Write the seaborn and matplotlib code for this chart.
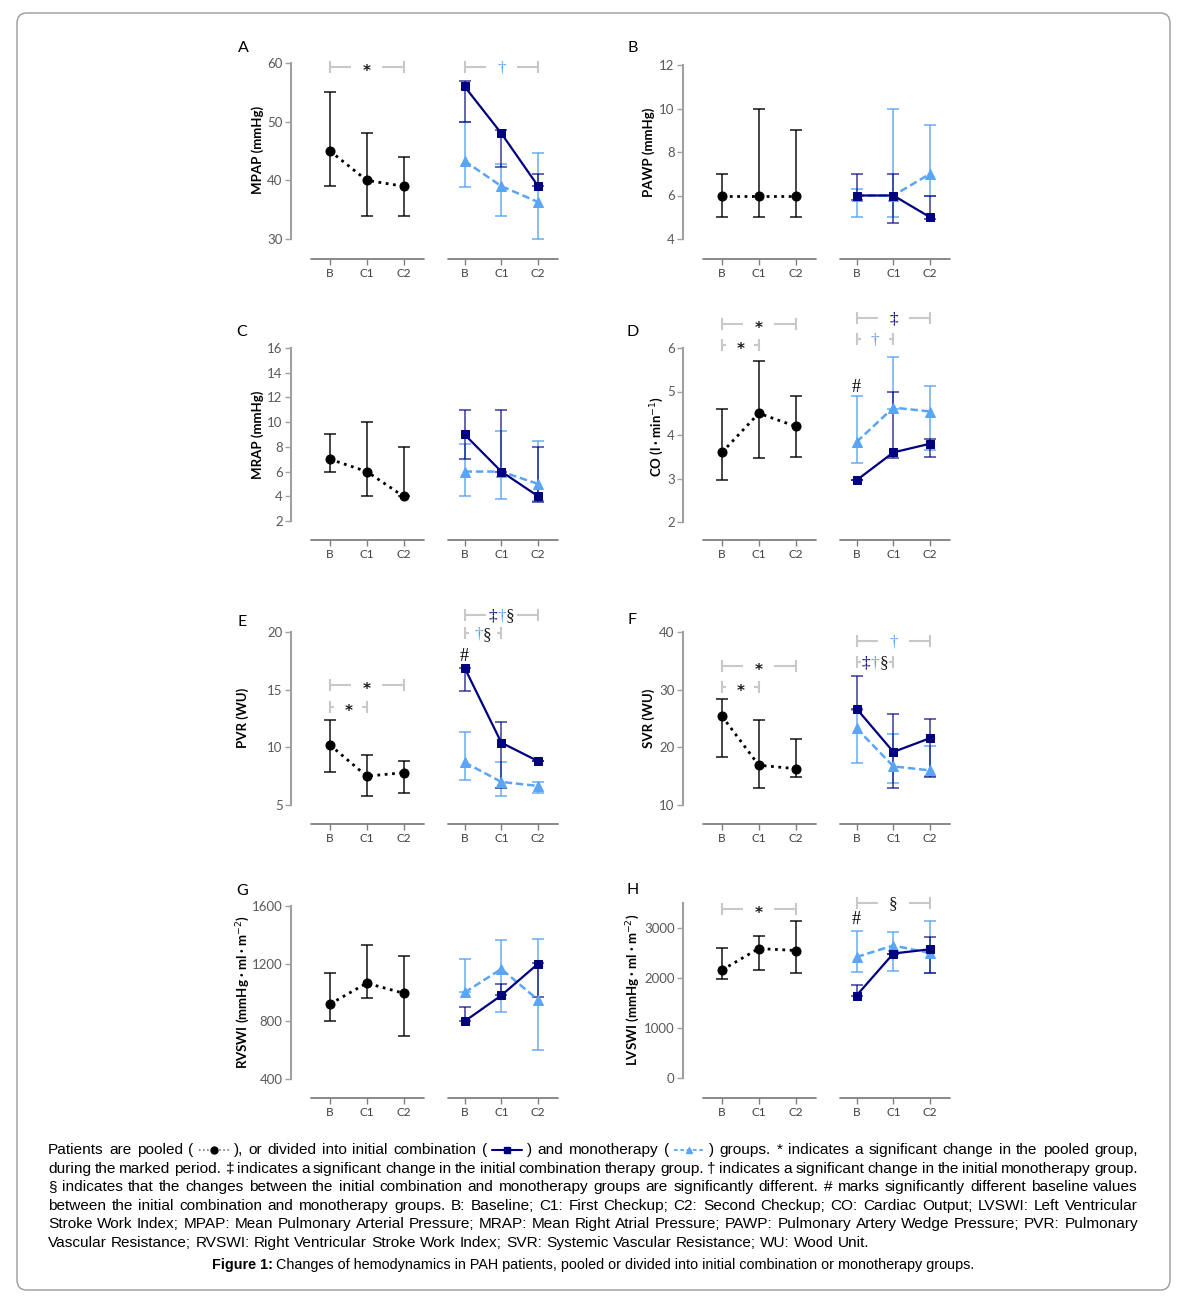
import matplotlib
matplotlib.use('Agg')
import numpy as np
import matplotlib.pyplot as plt
import seaborn as sns
from matplotlib.lines import Line2D
from matplotlib.patches import FancyBboxPatch

W, H = 1182, 1299

# time points and x positions (pooled block, then the divided block)
timepoints = ['B', 'C1', 'C2']
x_pool = [0, 1, 2]
x_group = [3.66, 4.66, 5.66]

# A: MPAP (mmHg)
mpap_pool = [45, 40, 39]
mpap_pool_lo = [39, 34, 34]
mpap_pool_hi = [55, 48, 44]
mpap_comb = [56, 48, 39]
mpap_comb_lo = [50, 42.2, 39]
mpap_comb_hi = [57, 48.6, 41.1]
mpap_mono = [43.3, 39, 36.3]
mpap_mono_lo = [38.9, 34, 30]
mpap_mono_hi = [50, 42.7, 44.6]

# B: PAWP (mmHg)
pawp_pool = [6, 6, 6]
pawp_pool_lo = [5, 5, 5]
pawp_pool_hi = [7, 10, 9]
pawp_comb = [6, 6, 5]
pawp_comb_lo = [5.8, 4.75, 4.9]
pawp_comb_hi = [7, 7, 6]
pawp_mono = [6, 6, 7]
pawp_mono_lo = [5, 5, 6]
pawp_mono_hi = [6.3, 10, 9.25]

# C: MRAP (mmHg)
mrap_pool = [7, 6, 4]
mrap_pool_lo = [6, 4, 4]
mrap_pool_hi = [9, 10, 8]
mrap_comb = [9, 6, 4]
mrap_comb_lo = [7, 6, 3.5]
mrap_comb_hi = [11, 11, 8]
mrap_mono = [6, 6, 5]
mrap_mono_lo = [4, 3.75, 3.6]
mrap_mono_hi = [8.2, 9.25, 8.5]

# D: CO (l/min)
co_pool = [3.6, 4.5, 4.2]
co_pool_lo = [2.96, 3.46, 3.5]
co_pool_hi = [4.6, 5.69, 4.9]
co_comb = [2.96, 3.6, 3.8]
co_comb_lo = [2.96, 3.48, 3.5]
co_comb_hi = [2.96, 5.0, 3.9]
co_mono = [3.84, 4.63, 4.54]
co_mono_lo = [3.36, 4.6, 3.65]
co_mono_hi = [4.9, 5.8, 5.12]

# E: PVR (WU)
pvr_pool = [10.2, 7.5, 7.8]
pvr_pool_lo = [7.9, 5.75, 6.05]
pvr_pool_hi = [12.4, 9.3, 8.85]
pvr_comb = [16.9, 10.4, 8.8]
pvr_comb_lo = [14.9, 6.5, 8.8]
pvr_comb_hi = [16.9, 12.2, 8.8]
pvr_mono = [8.7, 7.0, 6.65]
pvr_mono_lo = [7.2, 5.75, 6.05]
pvr_mono_hi = [11.3, 8.75, 7.0]

# F: SVR (WU)
svr_pool = [25.4, 16.9, 16.3]
svr_pool_lo = [18.3, 13, 14.8]
svr_pool_hi = [28.3, 24.8, 21.4]
svr_comb = [26.7, 19.2, 21.6]
svr_comb_lo = [26.7, 13, 14.8]
svr_comb_hi = [32.4, 25.8, 24.9]
svr_mono = [23.3, 16.7, 16.0]
svr_mono_lo = [17.3, 13.8, 15.0]
svr_mono_hi = [26.5, 22.3, 20.3]

# G: RVSWI
rvswi_pool = [920, 1065, 995]
rvswi_pool_lo = [800, 965, 698]
rvswi_pool_hi = [1135, 1330, 1255]
rvswi_comb = [800, 980, 1200]
rvswi_comb_lo = [800, 980, 967]
rvswi_comb_hi = [902, 1060, 1202]
rvswi_mono = [1000, 1163, 948]
rvswi_mono_lo = [1000, 863, 599]
rvswi_mono_hi = [1230, 1365, 1371]

# H: LVSWI
lvswi_pool = [2160, 2590, 2550]
lvswi_pool_lo = [1980, 2165, 2110]
lvswi_pool_hi = [2595, 2840, 3135]
lvswi_comb = [1650, 2490, 2575]
lvswi_comb_lo = [1650, 2490, 2100]
lvswi_comb_hi = [1870, 2490, 2820]
lvswi_mono = [2420, 2650, 2500]
lvswi_mono_lo = [2120, 2145, 2100]
lvswi_mono_hi = [2950, 2920, 3135]

NAVY = '#00007f'
LBLUE = '#5aa5f5'
BRACKET = '#c8c8c8'

sns.set_theme(style='white')
plt.rcParams['font.family'] = ['Lato', 'DejaVu Sans']

fig = plt.figure(figsize=(W / 100, H / 100), dpi=100)
fig.patch.set_facecolor('white')


def fx(px):
    return px / W


def fy(py):
    return 1 - py / H


panels = [
    dict(letter='A', col=291, lo=30, lo_px=239, hi=60, hi_px=63, xaxis=259, ticks=[30, 40, 50, 60],
         ylabel='MPAP (mmHg)', ylab_xy=(258, 150), let_xy=(243, 48),
         pool=(mpap_pool, mpap_pool_lo, mpap_pool_hi), comb=(mpap_comb, mpap_comb_lo, mpap_comb_hi),
         mono=(mpap_mono, mpap_mono_lo, mpap_mono_hi),
         brackets=[(0, 2, 59.3, [('*', 'k')]), (3.66, 5.66, 59.3, [('†', LBLUE)])], hashes=[]),
    dict(letter='B', col=683, lo=4, lo_px=239, hi=12, hi_px=65, xaxis=259, ticks=[4, 6, 8, 10, 12],
         ylabel='PAWP (mmHg)', ylab_xy=(649, 152), let_xy=(633, 48),
         pool=(pawp_pool, pawp_pool_lo, pawp_pool_hi), comb=(pawp_comb, pawp_comb_lo, pawp_comb_hi),
         mono=(pawp_mono, pawp_mono_lo, pawp_mono_hi), brackets=[], hashes=[]),
    dict(letter='C', col=291, lo=2, lo_px=521, hi=16, hi_px=348, xaxis=540, ticks=[2, 4, 6, 8, 10, 12, 14, 16],
         ylabel='MRAP (mmHg)', ylab_xy=(258, 435), let_xy=(242, 332),
         pool=(mrap_pool, mrap_pool_lo, mrap_pool_hi), comb=(mrap_comb, mrap_comb_lo, mrap_comb_hi),
         mono=(mrap_mono, mrap_mono_lo, mrap_mono_hi), brackets=[], hashes=[]),
    dict(letter='D', col=683, lo=2, lo_px=522, hi=6, hi_px=348, xaxis=540, ticks=[2, 3, 4, 5, 6],
         ylabel='CO (l · min$^{-1}$)', ylab_xy=(657, 437), let_xy=(633, 332),
         pool=(co_pool, co_pool_lo, co_pool_hi), comb=(co_comb, co_comb_lo, co_comb_hi),
         mono=(co_mono, co_mono_lo, co_mono_hi),
         brackets=[(0, 2, 6.55, [('*', 'k')]), (0, 1, 6.07, [('*', 'k')]),
                   (3.66, 5.66, 6.69, [('‡', NAVY)]), (3.66, 4.66, 6.2, [('†', LBLUE)])],
         hashes=[(3.66, 5.1)]),
    dict(letter='E', col=291, lo=5, lo_px=805, hi=20, hi_px=632, xaxis=824, ticks=[5, 10, 15, 20],
         ylabel='PVR (WU)', ylab_xy=(243, 718), let_xy=(242, 622),
         pool=(pvr_pool, pvr_pool_lo, pvr_pool_hi), comb=(pvr_comb, pvr_comb_lo, pvr_comb_hi),
         mono=(pvr_mono, pvr_mono_lo, pvr_mono_hi),
         brackets=[(0, 2, 15.4, [('*', 'k')]), (0, 1, 13.5, [('*', 'k')]),
                   (3.66, 5.66, 21.5, [('‡', NAVY), ('†', LBLUE), ('§', 'k')]),
                   (3.66, 4.66, 19.9, [('†', LBLUE), ('§', 'k')])],
         hashes=[(3.66, 17.9)]),
    dict(letter='F', col=683, lo=10, lo_px=805, hi=40, hi_px=632, xaxis=824, ticks=[10, 20, 30, 40],
         ylabel='SVR (WU)', ylab_xy=(649, 718), let_xy=(632, 620),
         pool=(svr_pool, svr_pool_lo, svr_pool_hi), comb=(svr_comb, svr_comb_lo, svr_comb_hi),
         mono=(svr_mono, svr_mono_lo, svr_mono_hi),
         brackets=[(0, 2, 34.1, [('*', 'k')]), (0, 1, 30.45, [('*', 'k')]),
                   (3.66, 5.66, 38.4, [('†', LBLUE)]),
                   (3.66, 4.66, 34.8, [('‡', NAVY), ('†', LBLUE), ('§', 'k')])],
         hashes=[]),
    dict(letter='G', col=291, lo=400, lo_px=1079, hi=1600, hi_px=906, xaxis=1098, ticks=[400, 800, 1200, 1600],
         ylabel='RVSWI (mmHg · ml · m$^{-2}$)', ylab_xy=(243, 992), let_xy=(242, 891),
         pool=(rvswi_pool, rvswi_pool_lo, rvswi_pool_hi), comb=(rvswi_comb, rvswi_comb_lo, rvswi_comb_hi),
         mono=(rvswi_mono, rvswi_mono_lo, rvswi_mono_hi), brackets=[], hashes=[]),
    dict(letter='H', col=683, lo=0, lo_px=1078, hi=3500, hi_px=903, xaxis=1098, ticks=[0, 1000, 2000, 3000],
         ylabel='LVSWI (mmHg · ml · m$^{-2}$)', ylab_xy=(633, 990), let_xy=(633, 890),
         pool=(lvswi_pool, lvswi_pool_lo, lvswi_pool_hi), comb=(lvswi_comb, lvswi_comb_lo, lvswi_comb_hi),
         mono=(lvswi_mono, lvswi_mono_lo, lvswi_mono_hi),
         brackets=[(0, 2, 3380, [('*', 'k')]), (3.66, 5.66, 3500, [('§', 'k')])],
         hashes=[(3.66, 3160)]),
]

AX_W = 267


def add_bracket(ax, x0, x1, y, pieces):
    short = (x1 - x0) < 1.5
    gap = 0.38 if short else 0.42
    mid = (x0 + x1) / 2
    for a, b in [(x0, mid - gap), (mid + gap, x1)]:
        ax.plot([a, b], [y, y], color=BRACKET, lw=1.5, clip_on=False, solid_capstyle='butt', zorder=1)
    ax.plot([x0, x1], [y, y], ls='none', marker='|', ms=8, mew=1.5, color=BRACKET, clip_on=False, zorder=1)
    n = len(pieces)
    for i, (ch, col) in enumerate(pieces):
        xc = mid + (i - (n - 1) / 2) * 0.24
        if ch == '*':
            ax.annotate(ch, xy=(xc, y), xytext=(0, -6.5), textcoords='offset points', ha='center',
                        va='baseline', fontsize=11, fontweight='bold', color=col, family='DejaVu Sans',
                        annotation_clip=False)
        else:
            ax.annotate(ch, xy=(xc, y), xytext=(0, -4), textcoords='offset points', ha='center',
                        va='baseline', fontsize=12.5, color=col, family='Liberation Serif',
                        annotation_clip=False)


for p in panels:
    s = (p['lo_px'] - p['hi_px']) / (p['hi'] - p['lo'])
    ybot = p['lo'] - (p['xaxis'] - p['lo_px']) / s
    ax = fig.add_axes([fx(p['col']), fy(p['xaxis']), AX_W / W, (p['xaxis'] - p['hi_px']) / H])
    ax.set_facecolor('none')
    ax.set_xlim(-1.06, 6.2)
    ax.set_ylim(ybot, p['hi'])
    for sp in ['top', 'right', 'bottom']:
        ax.spines[sp].set_visible(False)
    ax.spines['left'].set_bounds(p['lo'], p['hi'])
    ax.spines['left'].set_color('#a0a0a0')
    ax.spines['left'].set_linewidth(1.5)
    ax.set_yticks(p['ticks'])
    ax.set_xticks(x_pool + x_group)
    ax.set_xticklabels(timepoints * 2)
    ax.tick_params(axis='y', left=True, length=4, width=1, color='#a0a0a0', labelcolor='#595959',
                   labelsize=9.5, pad=2)
    ax.tick_params(axis='x', bottom=True, length=4, width=1, color='#808080', labelcolor='#404040',
                   labelsize=8.5, pad=2.5)
    # split x axis line
    for a, b in [(-0.52, 2.55), (3.2, 6.2)]:
        ax.plot([a, b], [0, 0], transform=ax.get_xaxis_transform(), clip_on=False, color='#808080', lw=1.3)

    # error bars
    for xs, (v, lo, hi), col, al in [(x_pool, p['pool'], 'black', 0.85),
                                     (x_group, p['mono'], LBLUE, 0.85),
                                     (x_group, p['comb'], NAVY, 0.7)]:
        v = np.array(v)
        err = [v - np.array(lo), np.array(hi) - v]
        ax.errorbar(xs, v, yerr=err, fmt='none', ecolor=col, elinewidth=1.2, capsize=4.5,
                    capthick=1.2, alpha=al, zorder=2, clip_on=False)

    # lines with markers
    sns.lineplot(x=x_pool, y=p['pool'][0], ax=ax, color='black', linestyle=':', lw=2,
                 marker='o', ms=6.5, mec='black', zorder=4)
    sns.lineplot(x=x_group, y=p['mono'][0], ax=ax, color=LBLUE, linestyle=(0, (3, 1.5)), lw=1.8,
                 marker='^', ms=7.5, mec=LBLUE, zorder=4)
    sns.lineplot(x=x_group, y=p['comb'][0], ax=ax, color=NAVY, linestyle='-', lw=1.6,
                 marker='s', ms=6, mec=NAVY, zorder=5)
    ax.set_xlabel('')
    ax.set_ylabel('')

    for x0, x1, y, pieces in p['brackets']:
        add_bracket(ax, x0, x1, y, pieces)
    for hx, hy in p['hashes']:
        ax.text(hx, hy, '#', ha='center', va='center', fontsize=13, family='Liberation Serif',
                color='black', clip_on=False)

    fig.text(fx(p['ylab_xy'][0]), fy(p['ylab_xy'][1]), p['ylabel'], rotation=90, ha='center',
             va='center', fontsize=9.5, fontweight='bold', color='black')
    fig.text(fx(p['let_xy'][0]), fy(p['let_xy'][1]), p['letter'], ha='center', va='center',
             fontsize=11.5, color='black')

# outer frame
fig.add_artist(FancyBboxPatch((fx(17), fy(1290)), (1170 - 17) / W, (1290 - 13) / H,
                              boxstyle='round,pad=0,rounding_size=0.008', transform=fig.transFigure,
                              fill=False, edgecolor='#9a9a9a', lw=1))

# caption, justified line by line
renderer = fig.canvas.get_renderer()
cap_kw = dict(family='Liberation Sans', size=11.1, color='black')
SYM_W = 40


def measure(txt, **kw):
    t = fig.text(0, 0, txt, **kw)
    w = t.get_window_extent(renderer).width
    t.remove()
    return w


def draw_sym(kind, x, yb):
    yc = fy(yb - 4)
    x0, x1, xm = fx(x + 5), fx(x + SYM_W - 5), fx(x + SYM_W / 2)
    if kind == 0:
        fig.add_artist(Line2D([x0, x1], [yc, yc], color='#666666', ls=':', lw=1.1))
        fig.add_artist(Line2D([xm], [yc], marker='o', ms=5, color='black', mec='black'))
    elif kind == 1:
        fig.add_artist(Line2D([x0, x1], [yc, yc], color=NAVY, ls='-', lw=1.5))
        fig.add_artist(Line2D([xm], [yc], marker='s', ms=4.5, color=NAVY, mec=NAVY))
    else:
        fig.add_artist(Line2D([x0, x1], [yc, yc], color=LBLUE, ls=(0, (2, 1.5)), lw=1.3))
        fig.add_artist(Line2D([xm], [yc], marker='^', ms=5, color=LBLUE, mec=LBLUE))


cap_lines = [
    ['Patients', 'are', 'pooled', ['(', 0, '),'], 'or', 'divided', 'into', 'initial', 'combination',
     ['(', 1, ')'], 'and', 'monotherapy', ['(', 2, ')'], 'groups.', '*', 'indicates', 'a', 'significant',
     'change', 'in', 'the', 'pooled', 'group,'],
    'during the marked period. ‡ indicates a significant change in the initial combination therapy group. '
    '† indicates a significant change in the initial monotherapy group.'.split(),
    '§ indicates that the changes between the initial combination and monotherapy groups are significantly '
    'different. # marks significantly different baseline values'.split(),
    'between the initial combination and monotherapy groups. B: Baseline; C1: First Checkup; C2: Second '
    'Checkup; CO: Cardiac Output; LVSWI: Left Ventricular'.split(),
    'Stroke Work Index; MPAP: Mean Pulmonary Arterial Pressure; MRAP: Mean Right Atrial Pressure; PAWP: '
    'Pulmonary Artery Wedge Pressure; PVR: Pulmonary'.split(),
    'Vascular Resistance; RVSWI: Right Ventricular Stroke Work Index; SVR: Systemic Vascular Resistance; '
    'WU: Wood Unit.'.split(),
]
baselines = [1154, 1173, 1191, 1210, 1228, 1247]
X_L, X_R = 48, 1138
space_w = measure('x x', **cap_kw) - measure('xx', **cap_kw)

for li, (words, yb) in enumerate(zip(cap_lines, baselines)):
    words = [w if isinstance(w, list) else [w] for w in words]
    widths = []
    for parts in words:
        widths.append(sum(SYM_W if isinstance(q, int) else measure(q, **cap_kw) for q in parts))
    if li == len(cap_lines) - 1:
        gap = space_w
    else:
        gap = (X_R - X_L - sum(widths)) / (len(words) - 1)
    x = X_L
    for parts, w in zip(words, widths):
        xx = x
        for q in parts:
            if isinstance(q, int):
                draw_sym(q, xx, yb)
                xx += SYM_W
            else:
                fig.text(fx(xx), fy(yb), q, ha='left', va='baseline', **cap_kw)
                xx += measure(q, **cap_kw)
        x += w + gap

# figure title line
title_kw = dict(family='Liberation Sans', size=10.4, color='black')
t1 = 'Figure 1:'
t2 = 'Changes of hemodynamics in PAH patients, pooled or divided into initial combination or monotherapy groups.'
w1 = measure(t1, weight='bold', **title_kw)
w2 = measure(t2, **title_kw)
x_start = 593 - (w1 + w2 + 3) / 2
fig.text(fx(x_start), fy(1269), t1, ha='left', va='baseline', weight='bold', **title_kw)
fig.text(fx(x_start + w1 + 3), fy(1269), t2, ha='left', va='baseline', **title_kw)

fig.savefig('out.png', dpi=100)
plt.close()
